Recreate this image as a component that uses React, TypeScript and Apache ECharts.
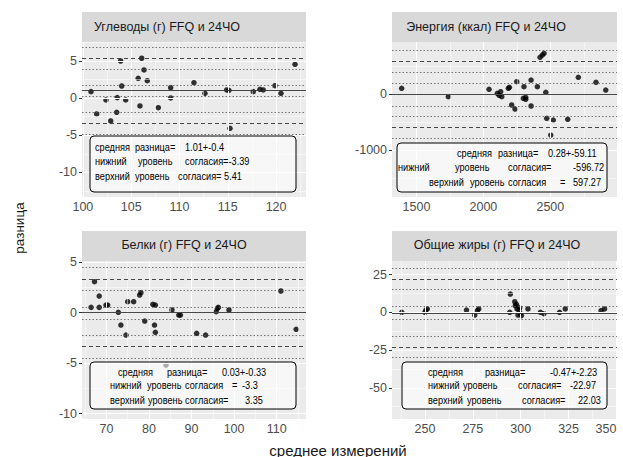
import React, { useEffect, useRef } from "react";
import * as echarts from "echarts";

// ---------- data ----------
const carbX = [100.84, 101.43, 102.39, 102.88, 103.5, 103.56, 103.91, 104.02, 104.43, 105.73, 105.91, 106.09, 106.33, 106.67, 107.81, 109.09, 109.09, 111.5, 112.64, 114.89, 115.12, 115.23, 117.64, 118.33, 118.67, 119.89, 120.51, 121.96];
const carbY = [0.88, -2.13, -0.24, -3.07, -1.9, 0.07, 5.01, 1.64, -0.24, 2.68, -1.05, 5.38, 3.8, 2.36, -1.28, 1.42, 0.03, 2.09, 0.66, 1.11, 1.06, -4.06, 0.88, 1.2, 1.11, 1.68, 0.66, 4.57];

const energyX = [1389, 1738, 2042, 2104, 2117, 2129, 2137, 2186, 2194, 2211, 2236, 2249, 2316, 2303, 2298, 2316, 2356, 2356, 2403, 2423, 2440, 2453, 2466, 2473, 2522, 2503, 2630, 2709, 2841, 2914];
const energyY = [107, -43, 89, 18, -18, 47, -43, 107, 125, -191, -263, 225, -54, 136, -72, -89, 256, -209, 136, 662, 703, 733, 36, -429, -460, -728, -447, 304, 215, 77];

const protX = [66.4, 67.2, 68.3, 68.3, 69.9, 70.3, 72.8, 73.4, 74.6, 75.0, 76.4, 77.8, 78.1, 79.0, 80.9, 81.5, 81.3, 81.5, 85.4, 87.0, 87.4, 91.2, 93.3, 95.8, 96.1, 96.3, 98.8, 111.0, 114.6, 84.0];
const protY = [0.52, 3.06, 1.64, 0.52, 0.75, 0.75, 0.03, -1.23, -2.22, 1.08, 1.08, 1.74, 1.97, -0.83, 0.82, 0.75, -1.23, -1.95, 0.26, -0.24, -0.24, -2.05, -2.22, 0.09, 0.43, 0.52, 0.26, 2.14, -1.65, -5.19];

const fatX = [237.9, 250.0, 250.5, 251.2, 271.7, 276.0, 277.4, 278.1, 294.3, 294.6, 296.9, 297.2, 297.8, 298.1, 298.6, 299.1, 299.5, 299.8, 300.4, 303.8, 310.3, 312.1, 320.3, 323.3, 342.0, 343.8];
const fatY = [0, 0, 1.5, 2.2, 1.5, -1.8, 1.1, 2.2, 0, 12.1, 7.0, 4.4, 5.3, 2.2, -1.8, 1.5, 3.0, -0.7, -2.2, 2.2, 0, -0.9, 0, 2.2, 1.1, 2.2];

const titles = ["Углеводы (г) FFQ и 24ЧО", "Энергия (ккал) FFQ и 24ЧО", "Белки (г) FFQ и 24ЧО", "Общие жиры (г) FFQ и 24ЧО"];

// mean difference, limits of agreement, dotted confidence bounds
const meanDiff = [1.01, 0.28, 0.03, -0.47];
const loaLow = [-3.39, -596.72, -3.3, -22.97];
const loaHigh = [5.41, 597.27, 3.35, 22.03];
const ciLines = [
  [0.22, 1.79, -4.83, -1.95, 3.96, 6.86],
  [-205, 200, -790, -400, 402, 792],
  [-0.66, 0.58, -4.47, -2.22, 2.17, 4.45],
  [-4.5, 3.9, -29.8, -15.7, 15.2, 29.1],
];

// axis ticks
const xTicks = [[100, 105, 110, 115, 120], [1500, 2000, 2500], [70, 80, 90, 100, 110], [250, 275, 300, 325, 350]];
const xMinor = [[102.5, 107.5, 112.5, 117.5, 122.5], [1250, 1750, 2250, 2750], [65, 75, 85, 95, 105, 115], [237.5, 262.5, 287.5, 312.5, 337.5]];
const yTicks = [[-10, -5, 0, 5], [-1000, 0], [-10, -5, 0, 5], [-50, -25, 0, 25]];
const yMinor = [[-12.5, -7.5, -2.5, 2.5, 7.5], [-1500, -500, 500], [-7.5, -2.5, 2.5], [-62.5, -37.5, -12.5, 12.5]];
const xRange = [[99.91, 123.1], [1317, 2998], [64.26, 116.9], [232.8, 350.3]];
const yRange = [[-13.32, 7.57], [-1837, 936], [-10.53, 5.11], [-70.66, 33.97]];

// annotation box texts (words)
const boxWords = [
  [["средняя", "разница=", "1.01+-0.4"], ["нижний", "уровень", "согласия=-3.39"], ["верхний", "уровень", "согласия= 5.41"]],
  [["средняя", "разница=", "0.28+-59.11"], ["нижний", "уровень", "согласия=", "-596.72"], ["верхний", "уровень", "согласия", "=", "597.27"]],
  [["средняя", "разница=", "0.03+-0.33"], ["нижний", "уровень", "согласия", "=", "-3.3"], ["верхний", "уровень", "согласия=", "3.35"]],
  [["средняя", "разница=", "-0.47+-2.23"], ["нижний", "уровень", "согласия=", "-22.97"], ["верхний", "уровень", "согласия=", "22.03"]],
];

// ---------- layout ----------
const FONT = "'Liberation Sans', Arial, sans-serif";
const grids = [
  { left: 82, top: 42, width: 224, height: 155 },
  { left: 392, top: 42, width: 225, height: 155 },
  { left: 82, top: 261, width: 224, height: 158 },
  { left: 392, top: 261, width: 225, height: 158 },
];
const titleCenters = [[167, 27], [486, 27], [184, 245], [497, 245]];
const boxes = [
  { x: 90, y: 136, w: 206, h: 56 },
  { x: 397, y: 143, w: 210, h: 49 },
  { x: 90, y: 362, w: 206, h: 47 },
  { x: 402, y: 362, w: 205, h: 47 },
];
const lineY = [[147, 161.5, 176], [153.3, 167.3, 182.7], [372.3, 385.5, 400], [372.3, 385.5, 400.5]];
const wordX = [
  [[95, 135, 185], [95, 138, 185], [95, 135, 178]],
  [[457, 498, 548], [398, 455, 508, 573], [429, 470, 508, 560, 573]],
  [[118, 167, 222], [110, 147, 185, 232, 242], [110, 148, 185, 245]],
  [[428, 485, 550], [428, 463, 518, 570], [428, 467, 522, 578]],
];

const seriesData = [
  [carbX, carbY],
  [energyX, energyY],
  [protX, protY],
  [fatX, fatY],
];

function textEl(x: number, y: number, text: string, font: string, align: string, extra: any = {}) {
  return {
    type: "text",
    x,
    y,
    ...extra,
    style: {
      text,
      font,
      fill: extra.fill || "#000",
      align,
      textAlign: align,
      verticalAlign: "middle",
      textVerticalAlign: "middle",
    },
  };
}

function buildOption() {
  const xAxis: any[] = [];
  const yAxis: any[] = [];
  const series: any[] = [];
  const graphic: any[] = [];
  const fmt = (v: number) => String(v);

  for (let i = 0; i < 4; i++) {
    const [xmin, xmax] = xRange[i];
    const [ymin, ymax] = yRange[i];
    xAxis.push({
      gridIndex: i,
      type: "value",
      min: xmin,
      max: xmax,
      axisLine: { show: false },
      splitLine: { show: false },
      axisTick: { show: true, length: 3, customValues: xTicks[i], lineStyle: { color: "#333", width: 1 } },
      axisLabel: {
        customValues: xTicks[i],
        formatter: fmt,
        color: "#4d4d4d",
        fontSize: 12.5,
        margin: 3,
        fontFamily: FONT,
        showMaxLabel: true,
        showMinLabel: true,
        hideOverlap: false,
        alignMaxLabel: i === 3 ? "right" : undefined,
      },
    });
    yAxis.push({
      gridIndex: i,
      type: "value",
      min: ymin,
      max: ymax,
      axisLine: { show: false },
      splitLine: { show: false },
      axisTick: { show: true, length: 3, customValues: yTicks[i], lineStyle: { color: "#333", width: 1 } },
      axisLabel: { customValues: yTicks[i], formatter: fmt, color: "#4d4d4d", fontSize: 12.5, margin: 5, fontFamily: FONT },
    });

    const inX = (v: number) => v >= xmin && v <= xmax;
    const inY = (v: number) => v >= ymin && v <= ymax;
    const gridLines: any[] = [];
    xTicks[i].filter(inX).forEach((v) => gridLines.push({ xAxis: v, lineStyle: { color: "#fff", width: 1.1, type: "solid" } }));
    xMinor[i].filter(inX).forEach((v) => gridLines.push({ xAxis: v, lineStyle: { color: "#fff", width: 0.5, type: "solid" } }));
    yTicks[i].filter(inY).forEach((v) => gridLines.push({ yAxis: v, lineStyle: { color: "#fff", width: 1.1, type: "solid" } }));
    yMinor[i].filter(inY).forEach((v) => gridLines.push({ yAxis: v, lineStyle: { color: "#fff", width: 0.5, type: "solid" } }));

    series.push({
      type: "line",
      xAxisIndex: i,
      yAxisIndex: i,
      data: [[xmin, ymin]],
      showSymbol: false,
      silent: true,
      z: 1,
      lineStyle: { opacity: 0 },
      markLine: { silent: true, symbol: ["none", "none"], label: { show: false }, animation: false, data: gridLines },
    });

    const refLines: any[] = [];
    ciLines[i].forEach((v) => refLines.push({ yAxis: v, lineStyle: { color: "#555", width: 0.8, type: [1.5, 2] } }));
    refLines.push({ yAxis: loaLow[i], lineStyle: { color: "#333", width: 0.9, type: [4, 3] } });
    refLines.push({ yAxis: loaHigh[i], lineStyle: { color: "#333", width: 0.9, type: [4, 3] } });
    refLines.push({ yAxis: meanDiff[i], lineStyle: { color: "#333", width: 0.9, type: "solid" } });
    series.push({
      type: "line",
      xAxisIndex: i,
      yAxisIndex: i,
      data: [[xmin, ymin]],
      showSymbol: false,
      silent: true,
      z: 2,
      lineStyle: { opacity: 0 },
      markLine: { silent: true, symbol: ["none", "none"], label: { show: false }, animation: false, data: refLines },
    });

    const [xs, ys] = seriesData[i];
    series.push({
      type: "scatter",
      xAxisIndex: i,
      yAxisIndex: i,
      z: 3,
      symbol: "circle",
      symbolSize: 5.5,
      itemStyle: { color: "#000" },
      data: xs.map((x, k) => [x, ys[k]]),
    });

    // strip
    const g = grids[i];
    graphic.push({
      type: "rect",
      z: 5,
      shape: { x: g.left, y: g.top - 30, width: g.width, height: 30 },
      style: { fill: "#d9d9d9" },
    });
    graphic.push({ ...textEl(titleCenters[i][0], titleCenters[i][1], titles[i], `12.5px ${FONT}`, "center", { fill: "#1a1a1a" }), z: 6 });

    // annotation box
    const b = boxes[i];
    graphic.push({
      type: "rect",
      z: 50,
      shape: { x: b.x, y: b.y, width: b.w, height: b.h, r: 4 },
      style: { fill: "rgba(255,255,255,0.6)", stroke: "#000", lineWidth: 1 },
    });
    boxWords[i].forEach((line, li) => {
      line.forEach((w, wi) => {
        graphic.push({ ...textEl(wordX[i][li][wi], lineY[i][li], w, `9.2px ${FONT}`, "left", { scaleY: 1.12 }), z: 51 });
      });
    });
  }

  graphic.push({ ...textEl(338, 450, "среднее измерений", `15px ${FONT}`, "center", { fill: "#1a1a1a" }), z: 60 });
  graphic.push({ ...textEl(19, 228, "разница", `13.5px ${FONT}`, "center", { fill: "#1a1a1a", rotation: Math.PI / 2 }), z: 60 });

  return {
    animation: false,
    backgroundColor: "#ffffff",
    grid: grids.map((g) => ({ ...g, show: true, backgroundColor: "#ebebeb", borderWidth: 0, containLabel: false })),
    xAxis,
    yAxis,
    series,
    graphic: { elements: graphic },
  };
}

export default function App() {
  const ref = useRef<HTMLDivElement>(null);
  useEffect(() => {
    if (!ref.current) return;
    const chart = echarts.init(ref.current, undefined, { renderer: "svg" });
    chart.setOption(buildOption() as any);
    return () => chart.dispose();
  }, []);
  return <div ref={ref} style={{ position: "absolute", left: 0, top: 0, width: 623, height: 457, background: "#fff" }} />;
}
